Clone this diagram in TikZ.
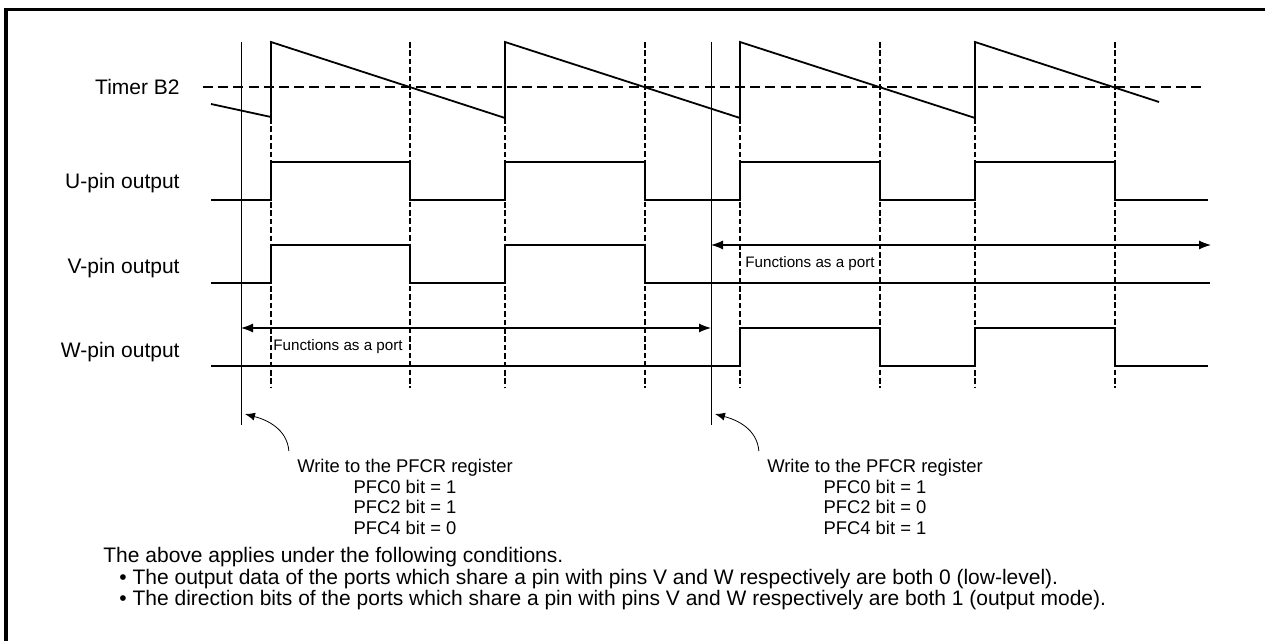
\documentclass[tikz,border=0pt]{standalone}
\usepackage{fontspec}
\setmainfont{Liberation Sans}
\usetikzlibrary{arrows.meta,positioning}

\begin{document}
\begin{tikzpicture}[x=0.5pt, y=-0.5pt, font=\fontsize{9.2}{10.3}\selectfont,
  sig/.style={line width=0.9pt},
  tick/.style={line width=0.55pt, dash pattern=on 2.8pt off 1.4pt},
  thr/.style={line width=0.9pt, dash pattern=on 5pt off 2.6pt},
  lbl/.style={anchor=east, inner sep=0pt, font=\fontsize{10.5}{12}\selectfont},
  note/.style={anchor=west, inner sep=0pt},
  cnote/.style={note, font=\fontsize{10.5}{12}\selectfont},
  regnote/.style={anchor=north, inner sep=0pt, align=center},
  port/.style={{Latex[length=6pt,width=4.5pt]}-{Latex[length=6pt,width=4.5pt]}, line width=0.6pt},
  hint/.style={-{Latex[length=5pt,width=4pt]}, line width=0.4pt}]
\useasboundingbox (0,0) rectangle (1265,641);
\draw[line width=1.6pt] (6,641) -- (6,9.5) -- (1265,9.5);

% signal names
\node[lbl] (timer) at (180,87) {Timer B2};
\node[lbl] (upin) at (180,183) {U-pin output};
\node[lbl] (vpin) at (180,268) {V-pin output};
\node[lbl] (wpin) at (180,352) {W-pin output};

% timer B2 and compare level
\draw[thr] (203,87) -- (1205,87);
\draw[sig] (211,104) -- (271,117) -- (271,42) -- (505,118) -- (505,42) -- (740,118)
  -- (740,42) -- (975,118) -- (975,42) -- (1159,102);

% timing marks
\foreach \x in {271,505,740,975} \draw[tick] (\x,118) -- (\x,388);
\foreach \x in {410,645,880,1115} \draw[tick] (\x,42) -- (\x,388);

% PFCR writes
\coordinate (wa) at (241,42);
\coordinate (wb) at (711,42);
\draw[line width=0.4pt] (wa) -- (241,425) coordinate (wa end);
\draw[line width=0.4pt] (wb) -- (711,425) coordinate (wb end);

% pin outputs
\draw[sig] (211,200) -- (271,200) -- (271,162) -- (410,162) -- (410,200) -- (505,200)
  -- (505,162) -- (645,162) -- (645,200) -- (740,200) -- (740,162) -- (880,162)
  -- (880,200) -- (975,200) -- (975,162) -- (1115,162) -- (1115,200) -- (1208,200);
\draw[sig] (211,283) -- (271,283) -- (271,245) -- (410,245) -- (410,283) -- (505,283)
  -- (505,245) -- (645,245) -- (645,283) -- (1210,283);
\draw[sig] (211,366) -- (740,366) -- (740,328) -- (880,328) -- (880,366) -- (975,366)
  -- (975,328) -- (1115,328) -- (1115,366) -- (1208,366);

% port ranges
\coordinate (va) at (711,245);
\coordinate (vb) at (1211,245);
\draw[port] (va) -- (vb);
\node[note, font=\fontsize{7.6}{9}\selectfont] (vport) at (745,264) {Functions as a port};
\coordinate (wpa) at (241,328);
\coordinate (wpb) at (711,328);
\draw[port] (wpa) -- (wpb);
\node[note, font=\fontsize{7.6}{9}\selectfont] (wport) at (273,347) {Functions as a port};

% register settings
\node[regnote] (rega) at (405,459) {Write to the PFCR register\\PFC0 bit = 1\\PFC2 bit = 1\\PFC4 bit = 0};
\node[regnote] (regb) at (875,459) {Write to the PFCR register\\PFC0 bit = 1\\PFC2 bit = 0\\PFC4 bit = 1};
\draw[hint] ([shift={(-8,-8)}]rega.north west) to[out=95, in=-15] ([xshift=2pt]wa end |- 0,414);
\draw[hint] ([shift={(-8,-8)}]regb.north west) to[out=95, in=-15] ([xshift=2pt]wb end |- 0,414);

% conditions
\node[cnote] (cond) at (103,557) {The above applies under the following conditions.};
\node[cnote] (conda) at (119,579) {\textbullet\ The output data of the ports which share a pin with pins V and W respectively are both 0 (low-level).};
\node[cnote] (condb) at (119,600) {\textbullet\ The direction bits of the ports which share a pin with pins V and W respectively are both 1 (output mode).};
\end{tikzpicture}
\end{document}
